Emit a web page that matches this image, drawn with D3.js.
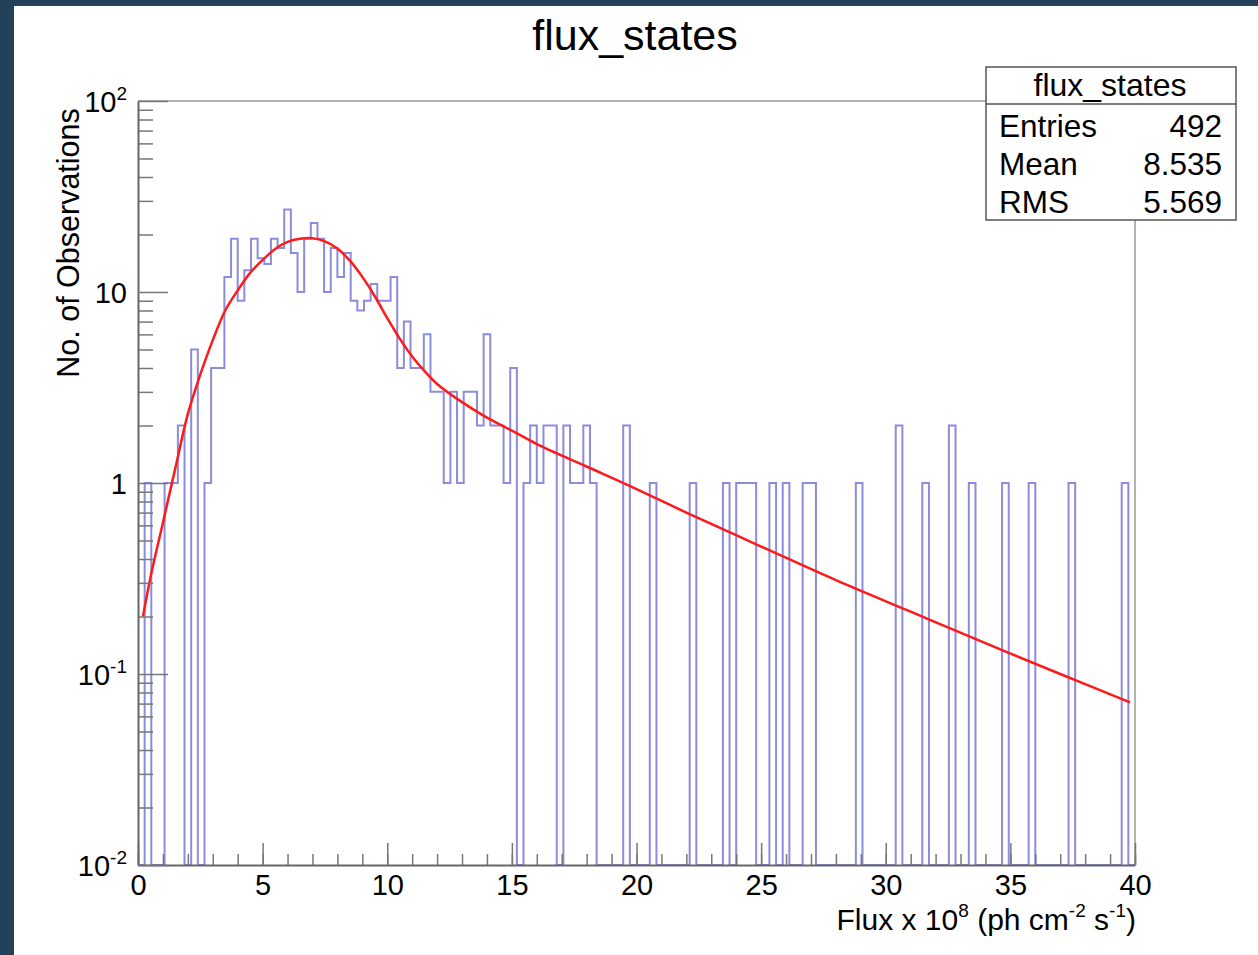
<!DOCTYPE html>
<html><head><meta charset="utf-8">
<script src="https://cdn.jsdelivr.net/npm/d3@7/dist/d3.min.js"></script>
<style>
html,body{margin:0;padding:0;background:#24415a;overflow:hidden;}
svg{display:block;}
text{font-family:"Liberation Sans",Arial,Helvetica,sans-serif;fill:#000;}
</style>
</head><body>
<svg id="c" width="1258" height="955"></svg>
<script>
// ---- data ----
const histTitle = "flux_states";
const binLow = 0, binHigh = 40;
const binCounts = [
  0,1,0,0,1,1,2,0,5,0,        // 0-9
  1,4,4,12,19,9,13,19,15,14,  // 10-19
  19,17,27,16,10,19,23,19,10,17, // 20-29
  12,16,9,8,9,11,9,9,12,4,    // 30-39
  7,4,4,6,3,3,1,3,1,3,        // 40-49
  3,2,6,2,2,1,4,0,1,2,        // 50-59
  1,2,2,0,2,1,1,2,1,0,        // 60-69
  0,0,0,2,0,0,0,1,0,0,        // 70-79
  0,0,0,1,0,0,0,0,1,0,        // 80-89
  1,1,1,0,0,1,0,1,0,0,        // 90-99
  1,1,0,0,0,0,0,0,1,0,        // 100-109
  0,0,0,0,2,0,0,0,1,0,        // 110-119
  0,0,2,0,0,1,0,0,0,0,        // 120-129
  1,0,0,0,1,0,0,0,0,0,        // 130-139
  1,0,0,0,0,0,0,0,1,0         // 140-149
];
const fitX = [0.2,0.5,1.0,1.5,2.0,2.5,3.0,3.5,4.0,4.5,5.0,5.5,6.0,6.5,7.0,7.5,8.0,8.5,9.0,9.5,10.0,10.5,11.0,11.5,12.0,13.0,14.0,15.0,16.0,18.0,20.0,22.0,25.0,28.0,31.0,34.0,37.0,39.8];
const fitY = [0.2,0.32,0.62,1.2,2.3,3.7,5.6,8.0,10.2,12.6,14.7,16.8,18.3,19.0,19.1,18.4,16.9,14.6,12.0,9.5,7.3,5.7,4.6,3.85,3.3,2.65,2.2,1.88,1.6,1.22,0.93,0.70,0.465,0.31,0.212,0.145,0.10,0.071];
const xMajorTicks = [0,5,10,15,20,25,30,35,40];
const xMinorTicks = d3.range(0,41,1);
const yMajorTicks = [0.01,0.1,1,10,100];
const yTickBase = ["10","10","1","10","10"];
const yTickExp  = ["-2","-1","","","2"];
const statsLabels = ["Entries","Mean","RMS"];
const statsValues = ["492","8.535","5.569"];
const yTitle = "No. of Observations";

// ---- layout ----
const svg = d3.select("#c");
svg.append("rect").attr("x",14).attr("y",6).attr("width",1244).attr("height",949).attr("fill","#fff");

const L=138, R=1135, T=101, B=865;
const x = d3.scaleLinear().domain([binLow,binHigh]).range([L,R]);
const y = d3.scaleLog().domain([0.01,100]).range([B,T]);

// frame (top/right)
svg.append("path").attr("d",`M${L},${T}H${R}V${B}`).attr("fill","none").attr("stroke","#9a9a9a").attr("stroke-width",1.5);

// clip
svg.append("clipPath").attr("id","clp").append("rect").attr("x",L).attr("y",T).attr("width",R-L).attr("height",B-T);

// histogram outline
const nb = binCounts.length, bw = (binHigh-binLow)/nb;
let d = `M${x(binLow)},${B}`;
binCounts.forEach((c,i)=>{
  const yy = c>0 ? y(c) : B;
  d += `L${x(binLow+i*bw)},${yy}L${x(binLow+(i+1)*bw)},${yy}`;
});
d += `L${x(binHigh)},${B}`;
svg.append("path").attr("d",d).attr("fill","none").attr("stroke","#8c8cdc").attr("stroke-width",2).attr("clip-path","url(#clp)");

// fit curve
const fitData = fitX.map((v,i)=>[v,fitY[i]]);
svg.append("path").datum(fitData)
  .attr("d",d3.line().x(p=>x(p[0])).y(p=>y(p[1])).curve(d3.curveCatmullRom.alpha(0.5)))
  .attr("fill","none").attr("stroke","#ff1a1a").attr("stroke-width",2.5).attr("clip-path","url(#clp)");

// x axis minor ticks
const gxm = svg.append("g").attr("transform",`translate(0,${B})`)
  .call(d3.axisBottom(x).tickValues(xMinorTicks).tickSizeInner(-11).tickSizeOuter(0).tickFormat(""));
gxm.select(".domain").remove();
gxm.selectAll(".tick line").attr("stroke","#777").attr("stroke-width",1.5);
// x axis major
const gx = svg.append("g").attr("transform",`translate(0,${B})`)
  .call(d3.axisBottom(x).tickValues(xMajorTicks).tickSizeInner(-22).tickSizeOuter(0).tickPadding(9).tickFormat(d3.format("d")));
gx.select(".domain").attr("stroke","#666").attr("stroke-width",2);
gx.selectAll(".tick line").attr("stroke","#777").attr("stroke-width",1.5);
gx.selectAll(".tick text").attr("font-size",29).attr("fill","#000").attr("font-family","Liberation Sans, Arial, sans-serif");

// y axis minor ticks
const yMinor = [];
[0.01,0.1,1,10].forEach(dec=>{ for(let k=2;k<=9;k++) yMinor.push(dec*k); });
const gym = svg.append("g").attr("transform",`translate(${L},0)`)
  .call(d3.axisLeft(y).tickValues(yMinor).tickSizeInner(-15).tickSizeOuter(0).tickFormat(""));
gym.select(".domain").remove();
gym.selectAll(".tick line").attr("stroke","#777").attr("stroke-width",1.5);
// y axis major
const gy = svg.append("g").attr("transform",`translate(${L},0)`)
  .call(d3.axisLeft(y).tickValues(yMajorTicks).tickSizeInner(-30).tickSizeOuter(0).tickPadding(11).tickFormat(""));
gy.select(".domain").attr("stroke","#666").attr("stroke-width",2);
gy.selectAll(".tick line").attr("stroke","#777").attr("stroke-width",1.5);
gy.selectAll(".tick text").each(function(v,i){
  const t = d3.select(this).attr("font-size",29).attr("fill","#000").attr("dy","0.35em")
    .attr("font-family","Liberation Sans, Arial, sans-serif");
  const idx = yMajorTicks.indexOf(v);
  t.text(null);
  t.append("tspan").text(yTickBase[idx]);
  if (yTickExp[idx]) t.append("tspan").attr("dy","-12").attr("font-size",19).text(yTickExp[idx]);
});

// y title
svg.append("text").attr("transform",`translate(79,${243}) rotate(-90)`)
  .attr("text-anchor","middle").attr("font-size",30.5).text(yTitle);

// x title
const xt = svg.append("text").attr("x",R+1).attr("y",930).attr("text-anchor","end").attr("font-size",30);
xt.append("tspan").text("Flux x 10");
xt.append("tspan").attr("dy",-13).attr("font-size",19).text("8");
xt.append("tspan").attr("dy",13).text(" (ph cm");
xt.append("tspan").attr("dy",-13).attr("font-size",19).text("-2");
xt.append("tspan").attr("dy",13).text(" s");
xt.append("tspan").attr("dy",-13).attr("font-size",19).text("-1");
xt.append("tspan").attr("dy",13).text(")");

// title
svg.append("text").attr("x",635).attr("y",50).attr("text-anchor","middle").attr("font-size",43).text(histTitle);

// stats box
const sb = svg.append("g");
sb.append("rect").attr("x",986).attr("y",67).attr("width",250).attr("height",153).attr("fill","#fff").attr("stroke","#555").attr("stroke-width",1.5);
sb.append("line").attr("x1",986).attr("x2",1236).attr("y1",104).attr("y2",104).attr("stroke","#555").attr("stroke-width",1.5);
sb.append("text").attr("x",1110).attr("y",96).attr("text-anchor","middle").attr("font-size",32).text(histTitle);
statsLabels.forEach((s,i)=>{
  sb.append("text").attr("x",999).attr("y",137+i*38).attr("font-size",31.5).text(s);
  sb.append("text").attr("x",1222).attr("y",137+i*38).attr("text-anchor","end").attr("font-size",31.5).text(statsValues[i]);
});
</script>
</body></html>
